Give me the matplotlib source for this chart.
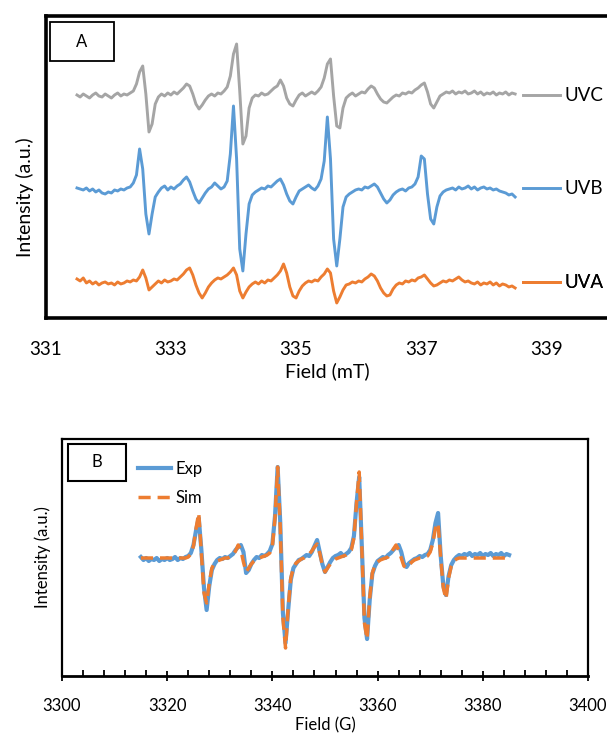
import numpy as np
import matplotlib
matplotlib.use("Agg")
import matplotlib.pyplot as plt
from matplotlib.patches import Rectangle
from matplotlib.ticker import MultipleLocator

plt.rcParams["font.family"] = ["Lato", "DejaVu Sans"]

# ---------- Panel A data (field in mT, 0.05 mT steps) ----------
field_mT = np.linspace(331.5, 338.5, 141)

uvc = [1, -1, 2, 0, -2, 1, 3, 0, -1, 2,
       0, -2, 1, 3, 0, 2, 1, 3, 5, 12,
       24, 30, 2, -36, -28, -8, -1, 2, 0, 3,
       1, 4, 2, 5, 8, 12, 10, 2, -8, -13,
       -9, -4, 0, 2, 0, 3, 2, 5, 9, 20,
       42, 52, 5, -48, -40, -12, -2, 1, 0, 3,
       1, 2, 5, 8, 10, 16, 10, -2, -8, -10,
       -4, 1, 3, 0, 2, 4, 2, 5, 9, 18,
       32, 37, 0, -30, -32, -12, -2, 1, 3, 0,
       2, 4, 3, 7, 10, 8, 2, -3, -6, -7,
       -4, -1, 1, 0, 3, 2, 4, 3, 6, 8,
       11, 13, 4, -8, -12, -6, 0, 2, 4, 3,
       5, 2, 4, 3, 5, 2, 3, 5, 2, 4,
       1, 3, 2, 4, 1, 3, 2, 4, 1, 3,
       2]

uvb = [1, 0, -1, 1, -2, 0, -3, -1, -4, -5,
       -3, -4, -1, -2, 0, -1, 1, 2, 6, 14,
       40, 20, -25, -45, -25, -8, -3, 1, 3, -1,
       2, 0, 3, 5, 9, 12, 7, -2, -10, -14,
       -9, -4, 0, 2, 6, 3, 0, 2, 8, 35,
       83, 30, -60, -82, -45, -15, -6, -3, -1, 1,
       0, 3, 2, 5, 8, 10, 4, -5, -12, -15,
       -8, -2, 0, 2, 4, 1, -1, 3, 10, 28,
       72, 30, -50, -77, -50, -18, -8, -5, -3, -1,
       0, -1, 2, 1, 3, 5, 2, -4, -10, -14,
       -11, -6, -3, -1, 0, -2, 1, 2, 5, 12,
       33, 30, -5, -30, -35, -18, -7, -3, -1, 0,
       1, -1, 2, 0, 1, 3, 0, 2, -1, 1,
       2, 0, 1, -1, 0, -2, -3, -4, -6, -5,
       -8]

uva = [4, 2, 5, 0, 2, -1, 1, -2, 0, 1,
       -1, 0, -2, 1, -1, 0, 2, 1, 3, 2,
       6, 13, 5, -7, -4, -1, 2, 0, 3, 1,
       2, 4, 3, 6, 9, 13, 15, 8, -2, -10,
       -15, -10, -4, 0, 3, 5, 4, 6, 8, 11,
       15, 8, -8, -15, -9, -4, -1, 1, -1, 2,
       0, 3, 2, 5, 8, 12, 19, 10, -4, -13,
       -15, -8, -3, 0, 2, 1, 3, 2, 6, 9,
       14, 10, -8, -20, -14, -7, -2, -1, 1, 0,
       2, 1, 4, 6, 9, 7, 2, -5, -10, -13,
       -12, -6, -2, 0, -1, 2, 1, 3, 2, 5,
       6, 8, 4, 0, -3, -2, 0, 2, 1, 3,
       2, 4, 6, 3, 1, 2, 0, -1, 1, -2,
       0, -1, 1, -2, 0, -3, -1, -2, -4, -3,
       -5]

names_a = ["UVC", "UVB", "UVA"]
offsets_a = [222, 129, 35]
colors_a = ["#A5A5A5", "#5B9BD5", "#ED7D31"]

# ---------- Panel B data (field in G, 0.5 G steps) ----------
field_G = np.linspace(3315, 3385, 141)

exp_b = [1, -2, 0, -3, -1, -2, 0, -3, -1, -2,
         0, -2, -1, 1, -2, 0, -1, 1, 2, 5,
         13, 28, 40, 8, -30, -52, -28, -12, -6, -2,
         0, -1, 1, 0, 2, 4, 8, 11, 13, 6,
         -15, -12, -6, -2, 1, 0, 3, 2, 4, 7,
         14, 42, 91, 35, -55, -85, -52, -22, -10, -6,
         -2, -1, 1, 3, 2, 6, 12, 18, 6, -6,
         -14, -9, -4, 0, 2, 3, 5, 2, 4, 6,
         10, 22, 55, 81, 12, -60, -81, -42, -16, -8,
         -3, -1, 1, 0, 3, 5, 8, 11, 13, 6,
         -5, -9, -5, -3, -1, 0, 2, 1, 3, 4,
         8, 18, 35, 45, 2, -28, -37, -18, -7, -2,
         1, 3, 2, 4, 3, 5, 2, 4, 3, 5,
         2, 4, 3, 5, 2, 4, 3, 5, 2, 4,
         3]

sim_b = [0, 0, 0, 0, 0, 0, 0, 0, 0, 0,
         0, 0, 0, 0, 0, 0, 0, 0, 1, 4,
         12, 30, 45, 5, -35, -45, -25, -10, -5, -3,
         -2, -1, 0, 0, 1, 3, 7, 13, 8, -4,
         -14, -10, -6, -3, -1, 0, 1, 2, 3, 5,
         12, 40, 91, 30, -60, -90, -50, -20, -10, -5,
         -3, -1, 0, 2, 4, 7, 11, 14, 5, -7,
         -14, -10, -6, -3, -1, 0, 1, 2, 3, 5,
         8, 20, 55, 86, 10, -65, -81, -40, -15, -7,
         -4, -2, -1, 0, 1, 4, 9, 13, 8, 0,
         -8, -10, -7, -4, -2, -1, 0, 0, 1, 2,
         6, 15, 30, 35, 0, -30, -41, -20, -8, -3,
         -1, 0, 0, 0, 0, 0, 0, 0, 0, 0,
         0, 0, 0, 0, 0, 0, 0, 0, 0, 0,
         0]


fig = plt.figure(figsize=(6.07, 7.34), dpi=100)

# Panel A
axA = fig.add_axes([0.0753, 0.5668, 0.928, 0.4114])
series_a = [uvc, uvb, uva]
for name, vals, color, off in zip(names_a, series_a, colors_a, offsets_a):
    line, = axA.plot(field_mT, np.array(vals) + off, color=color, lw=2.1)
    leg = axA.legend([line], [name], loc="center left",
                     bbox_to_anchor=(338.62, off), bbox_transform=axA.transData,
                     frameon=False, handlelength=2.0, handletextpad=0.25,
                     borderpad=0, borderaxespad=0, fontsize=13.5)
    axA.add_artist(leg)

axA.set_xlim(331, 340)
axA.set_ylim(0, 302)
axA.set_xticks([331, 333, 335, 337, 339])
axA.set_yticks([])
axA.tick_params(axis="x", length=0, pad=16.5, labelsize=13.5)
for sp in axA.spines.values():
    sp.set_linewidth(2.6)
axA.set_xlabel("Field (mT)", fontsize=14, labelpad=3)
axA.set_ylabel("Intensity (a.u.)", fontsize=14)
axA.yaxis.set_label_coords(-0.021, 0.40)

axA.add_patch(Rectangle((0.0076, 0.851), 0.1136, 0.129, transform=axA.transAxes,
                        facecolor="white", edgecolor="black", lw=1.3, zorder=5))
axA.text(0.0644, 0.9155, "A", transform=axA.transAxes, ha="center", va="center",
         fontsize=12, zorder=6)

# Panel B
axB = fig.add_axes([0.1021, 0.0790, 0.8666, 0.3229])
axB.plot(field_G, exp_b, color="#5B9BD5", lw=3, label="Exp")
axB.plot(field_G, sim_b, color="#ED7D31", lw=2.5, ls=(0, (3.5, 2)), label="Sim")

axB.set_xlim(3300, 3400)
axB.set_ylim(-118, 119)
axB.set_xticks(np.arange(3300, 3401, 20))
axB.xaxis.set_minor_locator(MultipleLocator(4))
axB.set_yticks([])
axB.tick_params(axis="x", which="major", direction="inout", length=7, width=1.3,
                labelsize=12, pad=12)
axB.tick_params(axis="x", which="minor", direction="in", length=4, width=1.3)
for sp in axB.spines.values():
    sp.set_linewidth(1.6)
axB.spines["bottom"].set_linewidth(2)
axB.set_xlabel("Field (G)", fontsize=12, labelpad=2.5)
axB.set_ylabel("Intensity (a.u.)", fontsize=12, labelpad=8)

axB.legend(loc="upper left", bbox_to_anchor=(0.1445, 0.909), frameon=False,
           handlelength=2.0, handletextpad=0.25, labelspacing=0.78,
           borderpad=0, borderaxespad=0, fontsize=12)

axB.add_patch(Rectangle((0.0114, 0.823), 0.1103, 0.156, transform=axB.transAxes,
                        facecolor="white", edgecolor="black", lw=1.5, zorder=5))
axB.text(0.0665, 0.901, "B", transform=axB.transAxes, ha="center", va="center",
         fontsize=12, zorder=6)

fig.savefig("out.png", dpi=100)
